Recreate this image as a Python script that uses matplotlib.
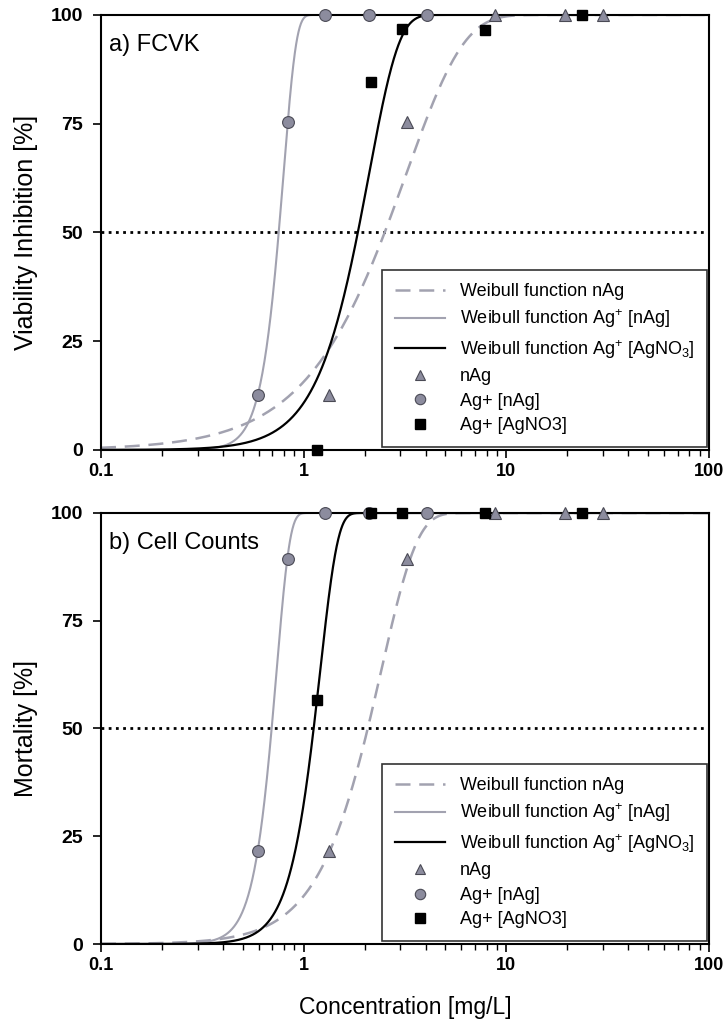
import numpy as np
import matplotlib
matplotlib.use("Agg")
import matplotlib.pyplot as plt
from matplotlib.lines import Line2D

plt.rcParams['font.family'] = ['Liberation Sans', 'DejaVu Sans']
plt.rcParams['mathtext.fontset'] = 'custom'
plt.rcParams['mathtext.rm'] = 'Liberation Sans'

# ---------------- data ----------------
# Panel a) FCVK
a_tri_x = [1.34, 3.25, 8.83, 19.5, 30.0]
a_tri_y = [12.7, 75.4, 100, 100, 100]
a_cir_x = [0.593, 0.834, 1.27, 2.09, 4.08]
a_cir_y = [12.7, 75.4, 100, 100, 100]
a_sq_x = [1.16, 2.14, 3.04, 7.88, 23.7]
a_sq_y = [0.0, 84.5, 96.7, 96.6, 100]
# Weibull parameters (EC50 [mg/L], slope on log10 scale)
a_ec50 = {'nAg': 2.51, 'Ag_nAg': 0.753, 'Ag_AgNO3': 1.85}
a_slope = {'nAg': 3.51, 'Ag_nAg': 15.8, 'Ag_AgNO3': 6.74}

# Panel b) Cell Counts
b_tri_x = [1.34, 3.25, 8.83, 19.5, 30.0]
b_tri_y = [21.6, 89.3, 100, 100, 100]
b_cir_x = [0.593, 0.834, 1.27, 2.09, 4.08]
b_cir_y = [21.6, 89.3, 100, 100, 100]
b_sq_x = [1.16, 2.14, 3.04, 7.88, 23.7]
b_sq_y = [56.7, 100, 100, 100, 100]
b_ec50 = {'nAg': 2.07, 'Ag_nAg': 0.695, 'Ag_AgNO3': 1.12}
b_slope = {'nAg': 5.6, 'Ag_nAg': 15.2, 'Ag_AgNO3': 11.5}

panel_titles = ['a) FCVK', 'b) Cell Counts']
y_labels = ['Viability Inhibition [%]', 'Mortality [%]']
x_label = 'Concentration [mg/L]'
y_ticks = [0, 25, 50, 75, 100]
x_ticks = [0.1, 1, 10, 100]
x_ticklabels = ['0.1', '1', '10', '100']
legend_labels = ['Weibull function nAg',
                 'Weibull function Ag$^{+}$ [nAg]',
                 'Weibull function Ag$^{+}$ [AgNO$_{3}$]',
                 'nAg', 'Ag+ [nAg]', 'Ag+ [AgNO3]']

LN2 = np.log(np.log(2))


def weibull(x, ec50, b):
    return 100 * (1 - np.exp(-np.exp(LN2 + b * (np.log10(x) - np.log10(ec50)))))


grey_line = '#a2a2b0'
marker_fill = '#8c8c9e'
marker_edge = '#4a4a55'

fig = plt.figure(figsize=(7.23, 10.28), dpi=100)
ax1 = fig.add_axes([0.1397, 0.5623, 0.841, 0.4232])
ax2 = fig.add_axes([0.1397, 0.0817, 0.841, 0.4193])

panels = [
    (ax1, a_tri_x, a_tri_y, a_cir_x, a_cir_y, a_sq_x, a_sq_y, a_ec50, a_slope),
    (ax2, b_tri_x, b_tri_y, b_cir_x, b_cir_y, b_sq_x, b_sq_y, b_ec50, b_slope),
]

xs = np.logspace(-1, 2, 1500)

for i, (ax, tx, ty, cx, cy, sx, sy, ec, sl) in enumerate(panels):
    ax.axhline(50, color='black', lw=2.0, ls=(0, (1, 1.6)), zorder=1)
    ax.plot(xs, weibull(xs, ec['nAg'], sl['nAg']), color=grey_line, lw=1.8,
            ls=(0, (6, 3.5)), zorder=2)
    ax.plot(xs, weibull(xs, ec['Ag_nAg'], sl['Ag_nAg']), color=grey_line, lw=1.5,
            zorder=2)
    ax.plot(xs, weibull(xs, ec['Ag_AgNO3'], sl['Ag_AgNO3']), color='black', lw=1.6,
            zorder=2)
    ax.plot(tx, ty, ls='none', marker='^', ms=8, mfc=marker_fill, mec=marker_edge,
            mew=0.8, clip_on=False, zorder=5)
    ax.plot(cx, cy, ls='none', marker='o', ms=8.5, mfc=marker_fill, mec=marker_edge,
            mew=0.8, clip_on=False, zorder=5)
    ax.plot(sx, sy, ls='none', marker='s', ms=7, mfc='black', mec='black',
            clip_on=False, zorder=6)

    ax.set_xscale('log')
    ax.set_xlim(0.1, 100)
    ax.set_ylim(0, 100)
    ax.set_yticks(y_ticks)
    ax.set_yticklabels([str(v) for v in y_ticks], fontsize=14, fontweight='bold')
    ax.set_xticks(x_ticks)
    ax.set_xticklabels(x_ticklabels, fontsize=13, fontweight='bold')
    ax.tick_params(axis='x', which='major', direction='out', length=6, width=1.2, pad=3.5)
    ax.tick_params(axis='x', which='minor', direction='out', length=4, width=1.0)
    ax.tick_params(axis='y', which='major', direction='out', length=6, width=1.2, pad=7)
    ax.tick_params(axis='y', which='minor', left=False)
    for sp in ax.spines.values():
        sp.set_linewidth(1.5)
        sp.set_color('black')
    ax.set_ylabel(y_labels[i], fontsize=18, labelpad=9)
    ax.text(0.013, 0.955, panel_titles[i], transform=ax.transAxes, fontsize=17,
            va='top', ha='left')

    handles = [
        Line2D([], [], color=grey_line, lw=1.8, ls=(0, (6, 3.5))),
        Line2D([], [], color=grey_line, lw=1.5),
        Line2D([], [], color='black', lw=1.6),
        Line2D([], [], ls='none', marker='^', ms=7, mfc=marker_fill, mec=marker_edge, mew=0.8),
        Line2D([], [], ls='none', marker='o', ms=7.5, mfc=marker_fill, mec=marker_edge, mew=0.8),
        Line2D([], [], ls='none', marker='s', ms=6.5, mfc='black', mec='black'),
    ]
    leg = ax.legend(handles, legend_labels, loc='lower right', bbox_to_anchor=(0.997, 0.006),
                    borderaxespad=0, fontsize=13, frameon=True, fancybox=False,
                    edgecolor='black', handlelength=2.8, handletextpad=0.8,
                    labelspacing=0.42, borderpad=0.72)
    leg.get_frame().set_linewidth(1.2)
    leg.set_zorder(10)

ax2.set_xlabel(x_label, fontsize=16.5, labelpad=16)

fig.savefig('out.png', dpi=100)
